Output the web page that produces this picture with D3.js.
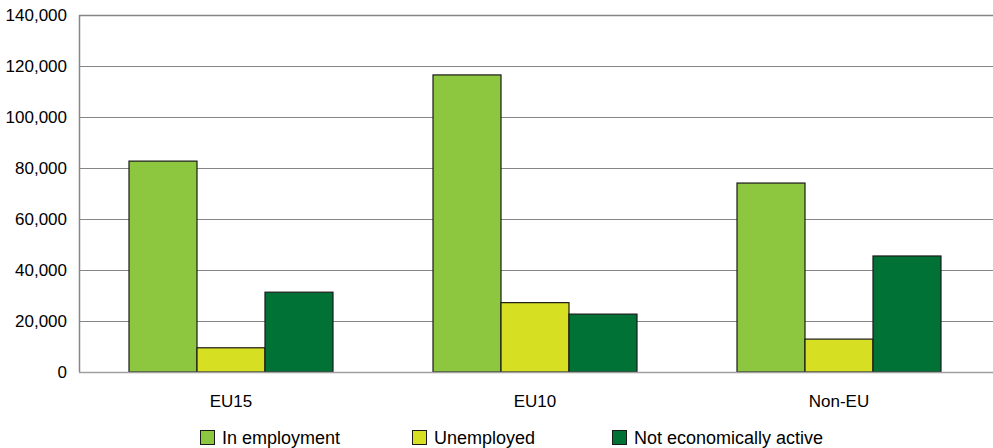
<!DOCTYPE html>
<html>
<head>
<meta charset="utf-8">
<script src="https://cdn.jsdelivr.net/npm/d3@7"></script>
<style>
  html, body { margin: 0; padding: 0; background: #fff; }
  svg { display: block; font-family: "Liberation Sans", Arial, sans-serif; }
</style>
</head>
<body>
<svg id="chart" width="993" height="448"></svg>
<script>
// Population by nationality group and economic status
const categories = ["EU15", "EU10", "Non-EU"];
const seriesNames = ["In employment", "Unemployed", "Not economically active"];
const inEmployment = [82700, 116500, 74100];
const unemployed = [9500, 27200, 12900];
const notActive = [31300, 22700, 45500];
const yTicks = [0, 20000, 40000, 60000, 80000, 100000, 120000, 140000];
const colors = ["#8dc63f", "#d7df23", "#007236"];

const seriesValues = [inEmployment, unemployed, notActive];

const svg = d3.select("#chart");
const margin = { left: 79, right: 0, top: 15, bottom: 76 };
const W = 993, H = 448;
const innerW = W - margin.left - margin.right;
const innerH = H - margin.top - margin.bottom;
const bandW = 912;

const g = svg.append("g").attr("transform", `translate(${margin.left},${margin.top})`);

const x0 = d3.scaleBand().domain(categories).range([0, bandW]).paddingInner(0.329).paddingOuter(0.1645);
const x1 = d3.scaleBand().domain(seriesNames).range([0, x0.bandwidth()]);
const y = d3.scaleLinear().domain([0, 140000]).range([innerH, 0]);

// horizontal gridlines
g.append("g")
  .selectAll("line")
  .data(yTicks)
  .join("line")
  .attr("x1", 0).attr("x2", innerW)
  .attr("y1", d => Math.round(y(d)) + 0.5)
  .attr("y2", d => Math.round(y(d)) + 0.5)
  .attr("stroke", "#868686")
  .attr("stroke-width", d => d === 140000 ? 1.5 : 1);

// y axis labels
const fmt = d3.format(",");
const yAxis = d3.axisLeft(y).tickValues(yTicks).tickFormat(fmt).tickSize(0).tickPadding(12);
const ya = g.append("g").call(yAxis);
ya.select(".domain").remove();
ya.selectAll("text")
  .attr("font-family", "Liberation Sans, Arial, sans-serif")
  .attr("font-size", 17)
  .attr("fill", "#000");

// bars
const groups = g.append("g")
  .selectAll("g")
  .data(categories)
  .join("g")
  .attr("transform", d => `translate(${x0(d)},0)`);

groups.selectAll("rect")
  .data((c, i) => seriesNames.map((s, j) => ({ s, v: seriesValues[j][i], j })))
  .join("rect")
  .attr("x", d => x1(d.s))
  .attr("y", d => y(d.v))
  .attr("width", x1.bandwidth())
  .attr("height", d => innerH - y(d.v))
  .attr("fill", d => colors[d.j])
  .attr("stroke", "#1a1a1a")
  .attr("stroke-width", 1.2);

// axis lines
g.append("line")
  .attr("x1", 0.5).attr("x2", 0.5).attr("y1", 0).attr("y2", innerH)
  .attr("stroke", "#868686").attr("stroke-width", 1.5);
g.append("line")
  .attr("x1", 0).attr("x2", innerW).attr("y1", innerH + 0.5).attr("y2", innerH + 0.5)
  .attr("stroke", "#a0a0a0").attr("stroke-width", 1.5);

// category labels
const xAxis = d3.axisBottom(x0).tickSize(0).tickPadding(23);
const xa = g.append("g").attr("transform", `translate(0,${innerH})`).call(xAxis);
xa.select(".domain").remove();
xa.selectAll("text")
  .attr("font-family", "Liberation Sans, Arial, sans-serif")
  .attr("font-size", 17)
  .attr("fill", "#000");

// legend
const legendX = [200, 412, 612];
const legend = svg.append("g")
  .selectAll("g")
  .data(seriesNames)
  .join("g")
  .attr("transform", (d, i) => `translate(${legendX[i]},430)`);
legend.append("rect")
  .attr("x", 0.5).attr("y", 0.5)
  .attr("width", 14).attr("height", 14)
  .attr("fill", (d, i) => colors[i])
  .attr("stroke", "#1a1a1a")
  .attr("stroke-width", 1);
legend.append("text")
  .attr("x", 22).attr("y", 14)
  .attr("font-size", 18)
  .attr("fill", "#000")
  .text(d => d);
</script>
</body>
</html>
